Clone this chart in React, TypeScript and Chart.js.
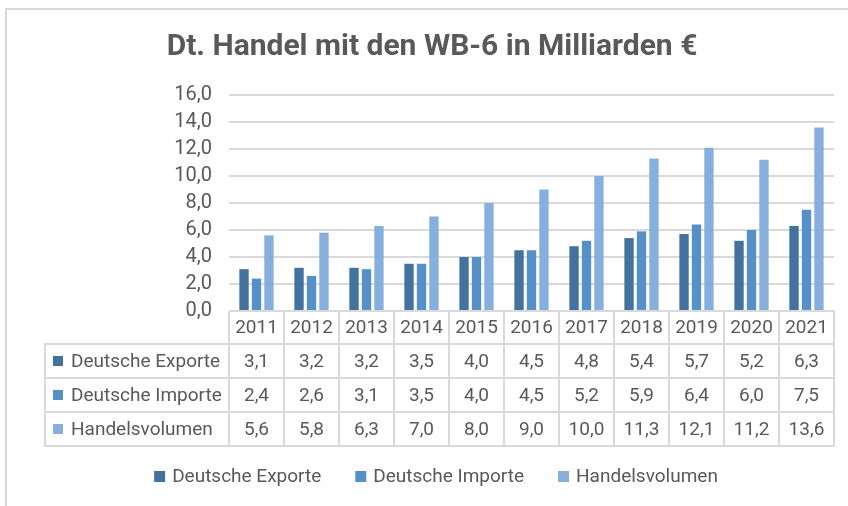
import { useEffect, useRef } from "react";
import { Chart, registerables } from "chart.js";

Chart.register(...registerables);

const chartTitle = "Dt. Handel mit den WB-6 in Milliarden €";
const years = ["2011", "2012", "2013", "2014", "2015", "2016", "2017", "2018", "2019", "2020", "2021"];
const seriesNames = ["Deutsche Exporte", "Deutsche Importe", "Handelsvolumen"];
const exporte = [3.1, 3.2, 3.2, 3.5, 4.0, 4.5, 4.8, 5.4, 5.7, 5.2, 6.3];
const importe = [2.4, 2.6, 3.1, 3.5, 4.0, 4.5, 5.2, 5.9, 6.4, 6.0, 7.5];
const handelsvolumen = [5.6, 5.8, 6.3, 7.0, 8.0, 9.0, 10.0, 11.3, 12.1, 11.2, 13.6];
const yMin = 0;
const yMax = 16;
const yStep = 2;

const seriesColors = ["#44729f", "#5591c8", "#87afde"];
const textColor = "#595959";
const lineColor = "#d9d9d9";
const FONT = "Roboto, 'Open Sans', sans-serif";

const fmt = (v: number) => v.toFixed(1).replace(".", ",");

const decorPlugin = {
  id: "decor",
  beforeDraw(chart: any) {
    const ctx = chart.ctx as CanvasRenderingContext2D;
    ctx.save();
    ctx.fillStyle = "#ffffff";
    ctx.fillRect(0, 0, chart.width, chart.height);
    ctx.strokeStyle = lineColor;
    ctx.lineWidth = 2;
    ctx.beginPath();
    ctx.moveTo(5, 9);
    ctx.lineTo(chart.width, 9);
    ctx.moveTo(6, 8);
    ctx.lineTo(6, chart.height);
    ctx.stroke();
    ctx.restore();
  },
  afterDraw(chart: any) {
    const ctx = chart.ctx as CanvasRenderingContext2D;
    const area = chart.chartArea;
    const xs = chart.scales.x;
    const n = years.length;
    const colW = (area.right - area.left) / n;
    const tableLeft = 45;
    const top = area.bottom;
    const rowBounds = [top, top + 33, top + 67, top + 101, top + 135];
    const values = [exporte, importe, handelsvolumen];

    ctx.save();
    // title
    ctx.fillStyle = textColor;
    ctx.font = `bold 30px ${FONT}`;
    ctx.textAlign = "center";
    ctx.textBaseline = "middle";
    ctx.fillText(chartTitle, 432, 47);

    // table lines
    ctx.strokeStyle = lineColor;
    ctx.lineWidth = 2;
    ctx.beginPath();
    ctx.moveTo(area.left, rowBounds[0]);
    ctx.lineTo(area.right + 1, rowBounds[0]);
    for (let r = 1; r < rowBounds.length; r++) {
      ctx.moveTo(tableLeft - 1, rowBounds[r]);
      ctx.lineTo(area.right + 1, rowBounds[r]);
    }
    ctx.moveTo(tableLeft, rowBounds[1]);
    ctx.lineTo(tableLeft, rowBounds[4]);
    for (let i = 0; i <= n; i++) {
      const x = Math.round(area.left + i * colW);
      ctx.moveTo(x, rowBounds[0]);
      ctx.lineTo(x, rowBounds[4]);
    }
    ctx.stroke();

    // header years
    ctx.fillStyle = textColor;
    ctx.font = `19px ${FONT}`;
    ctx.textAlign = "center";
    ctx.textBaseline = "middle";
    years.forEach((y, i) => {
      const cx = xs.getPixelForTick(i);
      ctx.fillText(y, cx, (rowBounds[0] + rowBounds[1]) / 2 + 1);
    });
    // rows
    values.forEach((vals, r) => {
      const cy = (rowBounds[r + 1] + rowBounds[r + 2]) / 2 + 1;
      ctx.fillStyle = seriesColors[r];
      ctx.fillRect(53, cy - 6, 10, 10);
      ctx.fillStyle = textColor;
      ctx.textAlign = "left";
      ctx.fillText(seriesNames[r], 71, cy);
      ctx.textAlign = "center";
      vals.forEach((v, i) => {
        ctx.fillText(fmt(v), xs.getPixelForTick(i), cy);
      });
    });

    // legend
    const box = 11;
    const gapBox = 7;
    const gapItem = 34;
    const widths = seriesNames.map((s) => ctx.measureText(s).width);
    const total = widths.reduce((a, w) => a + box + gapBox + w, 0) + gapItem * (seriesNames.length - 1);
    let lx = 436 - total / 2;
    const ly = 477;
    seriesNames.forEach((s, i) => {
      ctx.fillStyle = seriesColors[i];
      ctx.fillRect(lx, ly - 6, box, box);
      ctx.fillStyle = textColor;
      ctx.textAlign = "left";
      ctx.fillText(s, lx + box + gapBox, ly);
      lx += box + gapBox + widths[i] + gapItem;
    });
    ctx.restore();
  },
};

export default function App() {
  const ref = useRef<HTMLCanvasElement>(null);
  useEffect(() => {
    if (!ref.current) return;
    const chart = new Chart(ref.current, {
      type: "bar",
      data: {
        labels: years,
        datasets: [exporte, importe, handelsvolumen].map((d, i) => ({
          label: seriesNames[i],
          data: d,
          backgroundColor: seriesColors[i],
          borderWidth: 0,
          categoryPercentage: 0.68,
          barPercentage: 0.75,
        })),
      },
      options: {
        animation: false,
        responsive: false,
        devicePixelRatio: 1,
        layout: { padding: { left: 0, right: 14, top: 95, bottom: 195 } },
        plugins: {
          legend: { display: false },
          title: { display: false },
          tooltip: { enabled: false },
        },
        scales: {
          x: {
            ticks: { display: false },
            grid: { display: false },
            border: { display: false },
            afterFit: (s: any) => {
              s.height = 0;
            },
          },
          y: {
            min: yMin,
            max: yMax,
            ticks: {
              stepSize: yStep,
              padding: 17,
              color: textColor,
              font: { family: FONT, size: 20 },
              callback: (v: any) => fmt(Number(v)),
            },
            grid: { color: lineColor, lineWidth: 2, drawTicks: false },
            border: { display: false },
            afterFit: (s: any) => {
              s.width = 229;
            },
          },
        },
      },
      plugins: [decorPlugin],
    });
    return () => chart.destroy();
  }, []);
  return (
    <div style={{ position: "fixed", left: 0, top: 0, width: 848, height: 506, background: "#fff" }}>
      <canvas ref={ref} width={848} height={506} style={{ display: "block" }} />
    </div>
  );
}
